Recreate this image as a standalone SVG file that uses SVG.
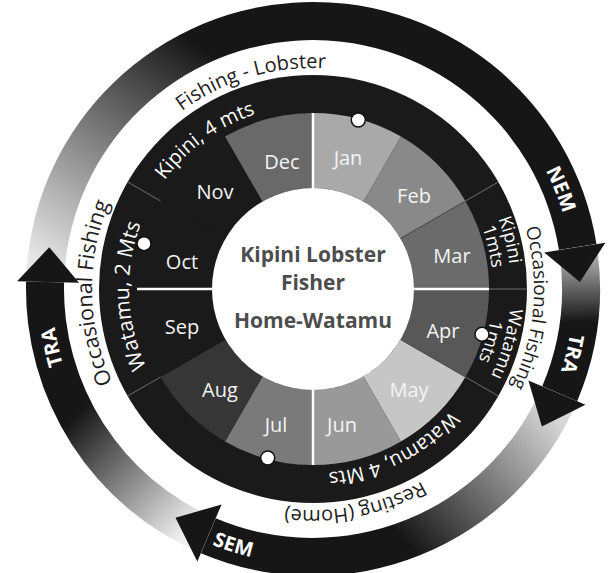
<svg xmlns="http://www.w3.org/2000/svg" xmlns:xlink="http://www.w3.org/1999/xlink" width="613" height="573" viewBox="0 0 613 573">
  <style>
    text { font-family: "Open Sans", "Liberation Sans", sans-serif; }
    .mon { font-size: 20px; fill: #f4f4f4; text-anchor: middle; }
    .loc { font-size: 20px; fill: #ffffff; text-anchor: middle; }
    .loc2 { font-size: 18px; fill: #ffffff; text-anchor: middle; }
    .act { font-size: 20px; fill: #1e1e1e; text-anchor: middle; }
    .season { font-size: 20px; font-weight: bold; fill: #ffffff; text-anchor: middle; }
    .hub { font-size: 21px; font-weight: bold; fill: #4d4d4d; text-anchor: middle; }
    .head { fill: #161616; }
    .sep { stroke: #ffffff; stroke-width: 2.5; }
    .div { stroke: #6e6e6e; stroke-width: 1; }
    .dot { fill: #ffffff; stroke: #111111; stroke-width: 1.5; }
  </style>
  <defs>
    <linearGradient id="g-nem" gradientUnits="userSpaceOnUse" x1="46" y1="266" x2="200" y2="46">
      <stop offset="0" stop-color="#e6e6e6"/><stop offset="1" stop-color="#161616"/>
    </linearGradient>
    <linearGradient id="g-tra-r" gradientUnits="userSpaceOnUse" x1="578" y1="252" x2="579" y2="322">
      <stop offset="0" stop-color="#b8b8b8"/><stop offset="1" stop-color="#161616"/>
    </linearGradient>
    <linearGradient id="g-sem" gradientUnits="userSpaceOnUse" x1="552" y1="411" x2="405" y2="541">
      <stop offset="0" stop-color="#d8d8d8"/><stop offset="1" stop-color="#161616"/>
    </linearGradient>
    <linearGradient id="g-tra-l" gradientUnits="userSpaceOnUse" x1="191" y1="528" x2="76" y2="415">
      <stop offset="0" stop-color="#f0f0f0"/><stop offset="1" stop-color="#161616"/>
    </linearGradient>
    <!-- baseline circles for curved labels (clockwise unless noted) -->
    <path id="c221top" d="M313,68 A221,221 0 1 1 313,510 A221,221 0 1 1 313,68"/>
    <path id="c221bot" d="M313,510 A221,221 0 1 1 313,68 A221,221 0 1 1 313,510"/>
    <path id="c184top" d="M313,105 A184,184 0 1 1 313,473 A184,184 0 1 1 313,105"/>
    <path id="c184bot" d="M313,473 A184,184 0 1 1 313,105 A184,184 0 1 1 313,473"/>
    <path id="c198top" d="M313,91 A198,198 0 1 1 313,487 A198,198 0 1 1 313,91"/>
    <path id="c180top" d="M313,109 A180,180 0 1 1 313,469 A180,180 0 1 1 313,109"/>
    <path id="c261top" d="M313,28 A261,261 0 1 1 313,550 A261,261 0 1 1 313,28"/>
    <path id="c275ccw" d="M313,14 A275,275 0 1 0 313,564 A275,275 0 1 0 313,14"/>
  </defs>

  <rect width="613" height="573" fill="#ffffff"/>

  <!-- monsoon arrows round the calendar -->
  <g id="connectors">
    <g id="arrow-bodies">
      <path fill="url(#g-nem)" d="M26.04,283.99 A287,287 0 0 1 596.47,244.10 L558.93,250.05 A249,249 0 0 0 64.04,284.65 Z"/>
      <path fill="url(#g-tra-r)" d="M596.47,244.10 A287,287 0 0 1 577.18,401.14 L542.20,386.29 A249,249 0 0 0 558.93,250.05 Z"/>
      <path fill="url(#g-sem)" d="M577.18,401.14 A287,287 0 0 1 200.86,553.18 L215.71,518.20 A249,249 0 0 0 542.20,386.29 Z"/>
      <path fill="url(#g-tra-l)" d="M200.86,553.18 A287,287 0 0 1 26.10,281.49 L64.08,282.48 A249,249 0 0 0 215.71,518.20 Z"/>
    </g>
    <g id="arrow-heads">
      <polygon class="head" points="544.12,252.40 605.36,242.70 579.91,282.01"/>
      <polygon class="head" points="528.40,380.43 585.47,404.66 541.86,426.52"/>
      <polygon class="head" points="221.57,504.40 197.34,561.47 175.48,517.86"/>
      <polygon class="head" points="79.08,282.87 17.10,281.25 49.29,247.23"/>
    </g>
    <g id="arrow-labels">
      <text class="season"><textPath xlink:href="#c261top" startOffset="18.9%">NEM</textPath></text>
      <text class="season"><textPath xlink:href="#c261top" startOffset="28.9%">TRA</textPath></text>
      <text class="season"><textPath xlink:href="#c261top" startOffset="71.5%">TRA</textPath></text>
      <text class="season"><textPath xlink:href="#c275ccw" startOffset="45.2%">SEM</textPath></text>
    </g>
  </g>

  <!-- location ring (base disk) -->
  <circle id="location-ring" cx="313" cy="289" r="214" fill="#1a1a1a"/>

  <!-- month sectors -->
  <g id="month-jan"><path fill="#a9a9a9" d="M313,113 A176,176 0 0 1 401,136.58 L363.5,201.53 A101,101 0 0 0 313,188 Z"/><text class="mon" x="348" y="165">Jan</text></g>
  <g id="month-feb"><path fill="#898989" d="M401,136.58 A176,176 0 0 1 465.42,201 L400.47,238.5 A101,101 0 0 0 363.5,201.53 Z"/><text class="mon" x="414" y="203">Feb</text></g>
  <g id="month-mar"><path fill="#6b6b6b" d="M465.42,201 A176,176 0 0 1 489,289 L414,289 A101,101 0 0 0 400.47,238.5 Z"/><text class="mon" x="452" y="263">Mar</text></g>
  <g id="month-apr"><path fill="#585858" d="M489,289 A176,176 0 0 1 465.42,377 L400.47,339.5 A101,101 0 0 0 414,289 Z"/><text class="mon" x="443" y="338">Apr</text></g>
  <g id="month-may"><path fill="#c6c6c6" d="M465.42,377 A176,176 0 0 1 401,441.42 L363.5,376.47 A101,101 0 0 0 400.47,339.5 Z"/><text class="mon" x="409" y="397">May</text></g>
  <g id="month-jun"><path fill="#999999" d="M401,441.42 A176,176 0 0 1 313,465 L313,390 A101,101 0 0 0 363.5,376.47 Z"/><text class="mon" x="342" y="432">Jun</text></g>
  <g id="month-jul"><path fill="#7a7a7a" d="M313,465 A176,176 0 0 1 225,441.42 L262.5,376.47 A101,101 0 0 0 313,390 Z"/><text class="mon" x="276" y="432">Jul</text></g>
  <g id="month-aug"><path fill="#363636" d="M225,441.42 A176,176 0 0 1 160.58,377 L225.53,339.5 A101,101 0 0 0 262.5,376.47 Z"/><text class="mon" x="220" y="397">Aug</text></g>
  <g id="month-sep"><path fill="#1a1a1a" d="M160.58,377 A176,176 0 0 1 137,289 L212,289 A101,101 0 0 0 225.53,339.5 Z"/><text class="mon" x="182" y="334">Sep</text></g>
  <g id="month-oct"><path fill="#1a1a1a" d="M137,289 A176,176 0 0 1 160.58,201 L225.53,238.5 A101,101 0 0 0 212,289 Z"/><text class="mon" x="182" y="269">Oct</text></g>
  <g id="month-nov"><path fill="#1a1a1a" d="M160.58,201 A176,176 0 0 1 225,136.58 L262.5,201.53 A101,101 0 0 0 225.53,238.5 Z"/><text class="mon" x="215" y="199">Nov</text></g>
  <g id="month-dec"><path fill="#696969" d="M225,136.58 A176,176 0 0 1 313,113 L313,188 A101,101 0 0 0 262.5,201.53 Z"/><text class="mon" x="282" y="169">Dec</text></g>

  <!-- dividers -->
  <g id="dividers">
    <line class="div" x1="465.42" y1="201" x2="498.33" y2="182"/>
    <line class="div" x1="489" y1="289" x2="527" y2="289"/>
    <line class="div" x1="465.42" y1="377" x2="498.33" y2="396"/>
    <line class="div" x1="160.58" y1="377" x2="127.67" y2="396"/>
    <line class="div" x1="160.58" y1="201" x2="127.67" y2="182"/>
    <line stroke="#4a4a4a" stroke-width="1" x1="400.47" y1="238.5" x2="465.42" y2="201"/>
    <line stroke="#4a4a4a" stroke-width="1" x1="400.47" y1="339.5" x2="465.42" y2="377"/>
    <line class="sep" x1="313" y1="188" x2="313" y2="113"/>
    <line class="sep" x1="414" y1="289" x2="489" y2="289"/>
    <line class="sep" x1="313" y1="390" x2="313" y2="465"/>
    <line class="sep" x1="212" y1="289" x2="137" y2="289"/>
  </g>

  <!-- fishing grounds -->
  <g id="locations">
    <text class="loc"><textPath xlink:href="#c184bot" startOffset="40%">Kipini, 4 mts</textPath></text>
    <text class="loc" style="font-size:21px"><textPath xlink:href="#c184bot" startOffset="24.4%">Watamu, 2 Mts</textPath></text>
    <text class="loc"><textPath xlink:href="#c184top" startOffset="42.6%">Watamu, 4 Mts</textPath></text>
    <text class="loc2"><textPath xlink:href="#c198top" startOffset="21.1%">Kipini</textPath></text>
    <text class="loc2"><textPath xlink:href="#c180top" startOffset="21.3%">1mts</textPath></text>
    <text class="loc2"><textPath xlink:href="#c198top" startOffset="29.4%">Watamu</textPath></text>
    <text class="loc2"><textPath xlink:href="#c180top" startOffset="29.6%">1mts</textPath></text>
  </g>

  <!-- activities -->
  <g id="activities">
    <text class="act"><textPath xlink:href="#c221bot" startOffset="45.4%">Fishing - Lobster</textPath></text>
    <text class="act" style="font-size:21.5px"><textPath xlink:href="#c221bot" startOffset="24.7%">Occasional Fishing</textPath></text>
    <text class="act" style="font-size:19px"><textPath xlink:href="#c221top" startOffset="26.4%">Occasional Fishing</textPath></text>
    <text class="act"><textPath xlink:href="#c221top" startOffset="46.9%">Resting (Home)</textPath></text>
  </g>

  <!-- trip markers -->
  <g id="markers">
    <circle class="dot" cx="358.3" cy="120" r="7"/>
    <circle class="dot" cx="482" cy="334.3" r="7"/>
    <circle class="dot" cx="267.7" cy="458" r="7"/>
    <circle class="dot" cx="144" cy="243.7" r="7"/>
  </g>

  <!-- hub -->
  <g id="hub">
    <circle cx="313" cy="289" r="101" fill="#ffffff"/>
    <text class="hub" x="313" y="262">Kipini Lobster</text>
    <text class="hub" x="313" y="290">Fisher</text>
    <text class="hub" x="313" y="328">Home-Watamu</text>
  </g>
</svg>
